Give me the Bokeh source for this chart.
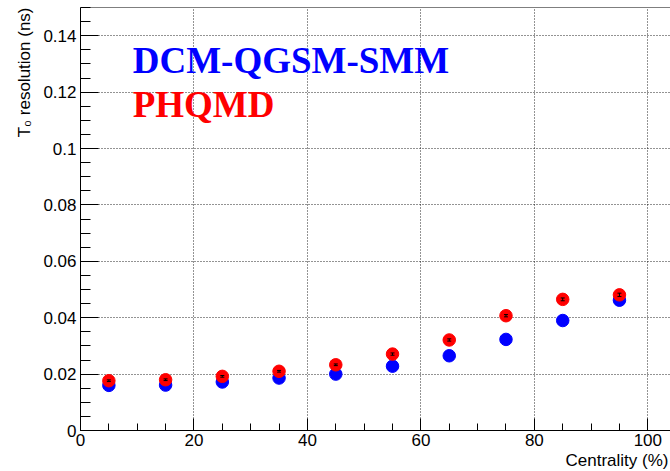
from bokeh.plotting import figure
from bokeh.models import (Range1d, SingleIntervalTicker, FixedTicker, CustomJSTickFormatter,
                          Label, Span, Whisker, ColumnDataSource, TeeHead, Title)
from bokeh.embed import file_html
from bokeh.resources import INLINE
import numpy as np

# ---- data ----
centrality = [5, 15, 25, 35, 45, 55, 65, 75, 85, 95]
dcm_qgsm_smm = [0.0160, 0.0161, 0.0172, 0.0186, 0.0200, 0.0228, 0.0265, 0.0323, 0.0390, 0.0462]
phqmd = [0.01765, 0.0180, 0.0192, 0.0210, 0.0233, 0.0271, 0.0321, 0.0407, 0.0465, 0.0481]
phqmd_err = [0.0003, 0.0003, 0.0003, 0.0003, 0.0003, 0.0004, 0.0004, 0.0004, 0.0005, 0.0006]
y_ticks = [0, 0.02, 0.04, 0.06, 0.08, 0.1, 0.12, 0.14]
x_title = "Centrality (%)"
y_title = "T\u2080 resolution (ns)"

FONT = "Liberation Sans"

p = figure(width=670, height=471, title=None,
           x_range=Range1d(0, 104), y_range=Range1d(0, 0.15),
           output_backend="svg", toolbar_location=None,
           min_border_left=80, min_border_right=0, min_border_top=7, min_border_bottom=41)
p.outline_line_color = None
p.background_fill_color = "white"
p.border_fill_color = "white"

# axes
p.xaxis.ticker = SingleIntervalTicker(interval=20, num_minor_ticks=4)
minor_y = [float(v) for v in np.arange(0, 0.1501, 0.005)]
p.yaxis.ticker = FixedTicker(ticks=y_ticks, minor_ticks=minor_y)
p.yaxis.formatter = CustomJSTickFormatter(code="return tick.toFixed(2).replace(/\\.?0+$/, '');")

for ax in (p.xaxis[0], p.yaxis[0]):
    ax.axis_line_color = "black"
    ax.axis_line_width = 1
    ax.major_tick_line_color = "black"
    ax.minor_tick_line_color = "black"
    ax.major_tick_out = 0
    ax.minor_tick_out = 0
    ax.major_label_text_font = FONT
    ax.major_label_text_font_size = "17px"
    ax.major_label_text_color = "black"
    ax.major_label_standoff = 4

p.xaxis.major_label_standoff = 3
p.yaxis.major_tick_in = 18
p.yaxis.minor_tick_in = 10
p.xaxis.major_tick_in = 12
p.xaxis.minor_tick_in = 7

p.grid.grid_line_color = "black"
p.grid.grid_line_alpha = 0.85
p.grid.grid_line_dash = "1 2"
p.grid.grid_line_width = 1

# top frame line
p.add_layout(Span(location=0.15, dimension="width", line_color="black", line_width=1))

# data
src_d = ColumnDataSource(dict(x=centrality, y=dcm_qgsm_smm))
lo = [v - e for v, e in zip(phqmd, phqmd_err)]
hi = [v + e for v, e in zip(phqmd, phqmd_err)]
src_p = ColumnDataSource(dict(x=centrality, y=phqmd, lo=lo, hi=hi))

p.scatter("x", "y", source=src_d, size=12.5, color="#0000ff", line_color="#0000ff")
p.scatter("x", "y", source=src_p, size=12.5, color="#ff0000", line_color="#ff0000")
p.add_layout(Whisker(base="x", lower="lo", upper="hi", source=src_p, dimension="height",
                     line_color="black", line_width=1, level="overlay",
                     upper_head=TeeHead(size=4, line_color="black", line_width=1),
                     lower_head=TeeHead(size=4, line_color="black", line_width=1)))

# legend-like texts
p.add_layout(Label(x=9.2, y=0.1313, text="DCM-QGSM-SMM", text_font="Liberation Serif",
                   text_font_style="bold", text_font_size="37px", text_color="#0000ff",
                   text_baseline="alphabetic", text_align="left"))
p.add_layout(Label(x=9.2, y=0.1155, text="PHQMD", text_font="Liberation Serif",
                   text_font_style="bold", text_font_size="37px", text_color="#ff0000",
                   text_baseline="alphabetic", text_align="left"))

# axis titles
p.add_layout(Title(text=x_title, align="right", text_font=FONT, text_font_size="17px",
                   text_font_style="normal", text_color="black", standoff=0, offset=2), "below")
p.add_layout(Title(text=y_title, align="right", text_font=FONT, text_font_size="17px",
                   text_font_style="normal", text_color="black", standoff=13), "left")

open("out.html", "w").write(file_html(p, INLINE))
